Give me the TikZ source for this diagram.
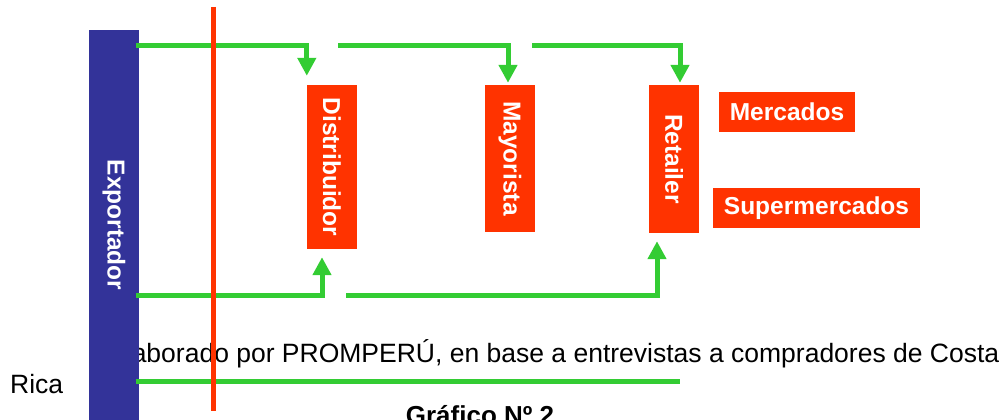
\documentclass[tikz,border=0pt]{standalone}
\usepackage{fontspec}
\setmainfont{Liberation Sans}
\usepackage{pgf,tikz}
\usetikzlibrary{shapes,arrows,arrows.meta,positioning}
\definecolor{azul}{HTML}{333399}
\definecolor{naranja}{HTML}{FF3300}
\definecolor{verde}{HTML}{33CC33}
\tikzstyle{caja} = [fill=naranja, text=white, inner sep=0pt, minimum width=50pt, font=\fontsize{24.5}{28}\selectfont\bfseries]
\tikzstyle{etiqueta} = [fill=naranja, text=white, inner sep=0pt, minimum height=40pt, font=\fontsize{24.5}{28}\selectfont\bfseries]
\tikzstyle{flecha} = [draw=verde, line width=5pt, -{Triangle[width=18pt,length=18pt]}]
\tikzstyle{linea} = [draw=verde, line width=5pt]
\tikzstyle{nota} = [inner sep=0pt, font=\fontsize{26.5}{30}\selectfont]

\begin{document}
\begin{tikzpicture}[x=1pt,y=-1pt]
					\useasboundingbox (0,0) rectangle (1006,420);
					\node [nota, anchor=base west] (fuente) at (108,362) {Elaborado por PROMPERÚ, en base a entrevistas a compradores de Costa};
					\node [nota, anchor=base west] (rica) at (10,393) {Rica};
					\node [nota, anchor=base, font=\fontsize{26}{30}\selectfont\bfseries] (grafico) at (480,424) {Gráfico Nº 2};
					\node [caja, fill=azul, minimum height=390pt] (exportador) at (114,225) {\rotatebox{-90}{Exportador}};
					\node [caja, minimum height=164pt] (distribuidor) at (332,167) {\rotatebox{-90}{Distribuidor}};
					\node [caja, minimum height=147pt] (mayorista) at (510,158.5) {\rotatebox{-90}{Mayorista}};
					\node [caja, minimum height=148pt] (retailer) at (674,159) {\rotatebox{-90}{Retailer}};
					\node [etiqueta, minimum width=136pt] (mercados) at (787,112) {Mercados};
					\node [etiqueta, minimum width=207pt] (supermercados) at (816.5,208) {Supermercados};
					\coordinate (a1) at (136,45.5);
					\coordinate (a2) at (338,45.5);
					\coordinate (a3) at (532,45.5);
					\coordinate (b1) at (136,295);
					\coordinate (b2) at (346,295);
					\coordinate (c1) at (136,381);
					\coordinate (c2) at (680,381);
					\draw [flecha] (a1) -| ([yshift=9pt]distribuidor.north west);
					\draw [flecha] (a2) -| ([xshift=-2pt,yshift=2pt]mayorista.north);
					\draw [flecha] (a3) -| ([xshift=6pt,yshift=2pt]retailer.north);
					\draw [flecha] (b1) -| ([xshift=-10pt,yshift=-8pt]distribuidor.south);
					\draw [flecha] (b2) -| ([xshift=-17pt,yshift=-8pt]retailer.south);
					\draw [linea] (c1) -- (c2);
					\draw [naranja, line width=5pt] (213,7) -- (213,411);
\end{tikzpicture}
\end{document}
